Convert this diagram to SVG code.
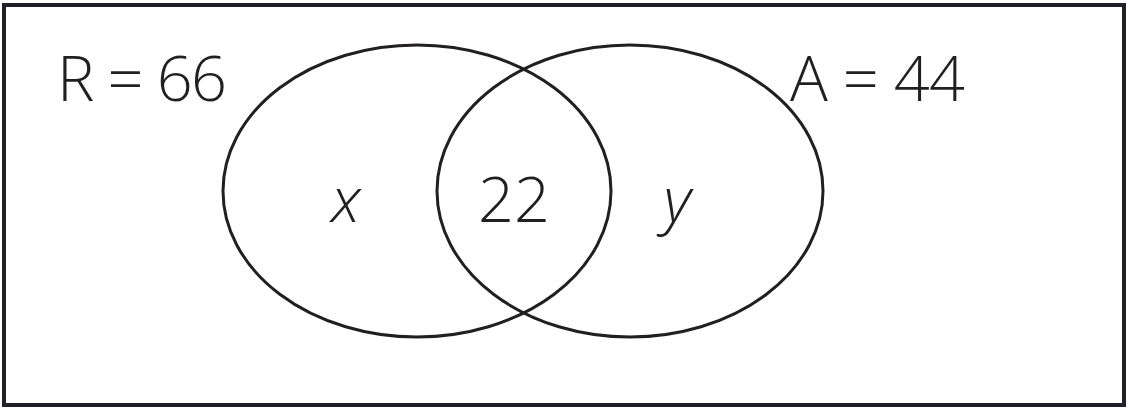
<svg xmlns="http://www.w3.org/2000/svg" width="1128" height="409" viewBox="0 0 1128 409">
<style>
.frame{fill:#ffffff;stroke:#1f2029;stroke-width:4}
.set{fill:none;stroke:#231f20;stroke-width:3}
.lbl{font-family:"Open Sans","Noto Sans",sans-serif;font-weight:300;font-size:63px;fill:#231f20}
.var{font-style:italic}
</style>
<rect x="0" y="0" width="1128" height="409" fill="#ffffff"/>
<rect class="frame" x="4" y="5" width="1120" height="400"/>
<g id="setR">
<ellipse class="set" cx="417" cy="191" rx="194" ry="146"/>
<text class="lbl" x="57" y="101" textLength="170" lengthAdjust="spacing">R = 66</text>
</g>
<g id="setA">
<ellipse class="set" cx="630" cy="191" rx="193" ry="146"/>
<text class="lbl" x="790" y="101" textLength="175" lengthAdjust="spacing">A = 44</text>
</g>
<g id="regionX"><text class="lbl var" x="346" y="222" text-anchor="middle">x</text></g>
<g id="regionBoth"><text class="lbl" x="514" y="222" text-anchor="middle">22</text></g>
<g id="regionY"><text class="lbl var" x="677" y="222" text-anchor="middle">y</text></g>
<g id="connectors"></g>
</svg>
